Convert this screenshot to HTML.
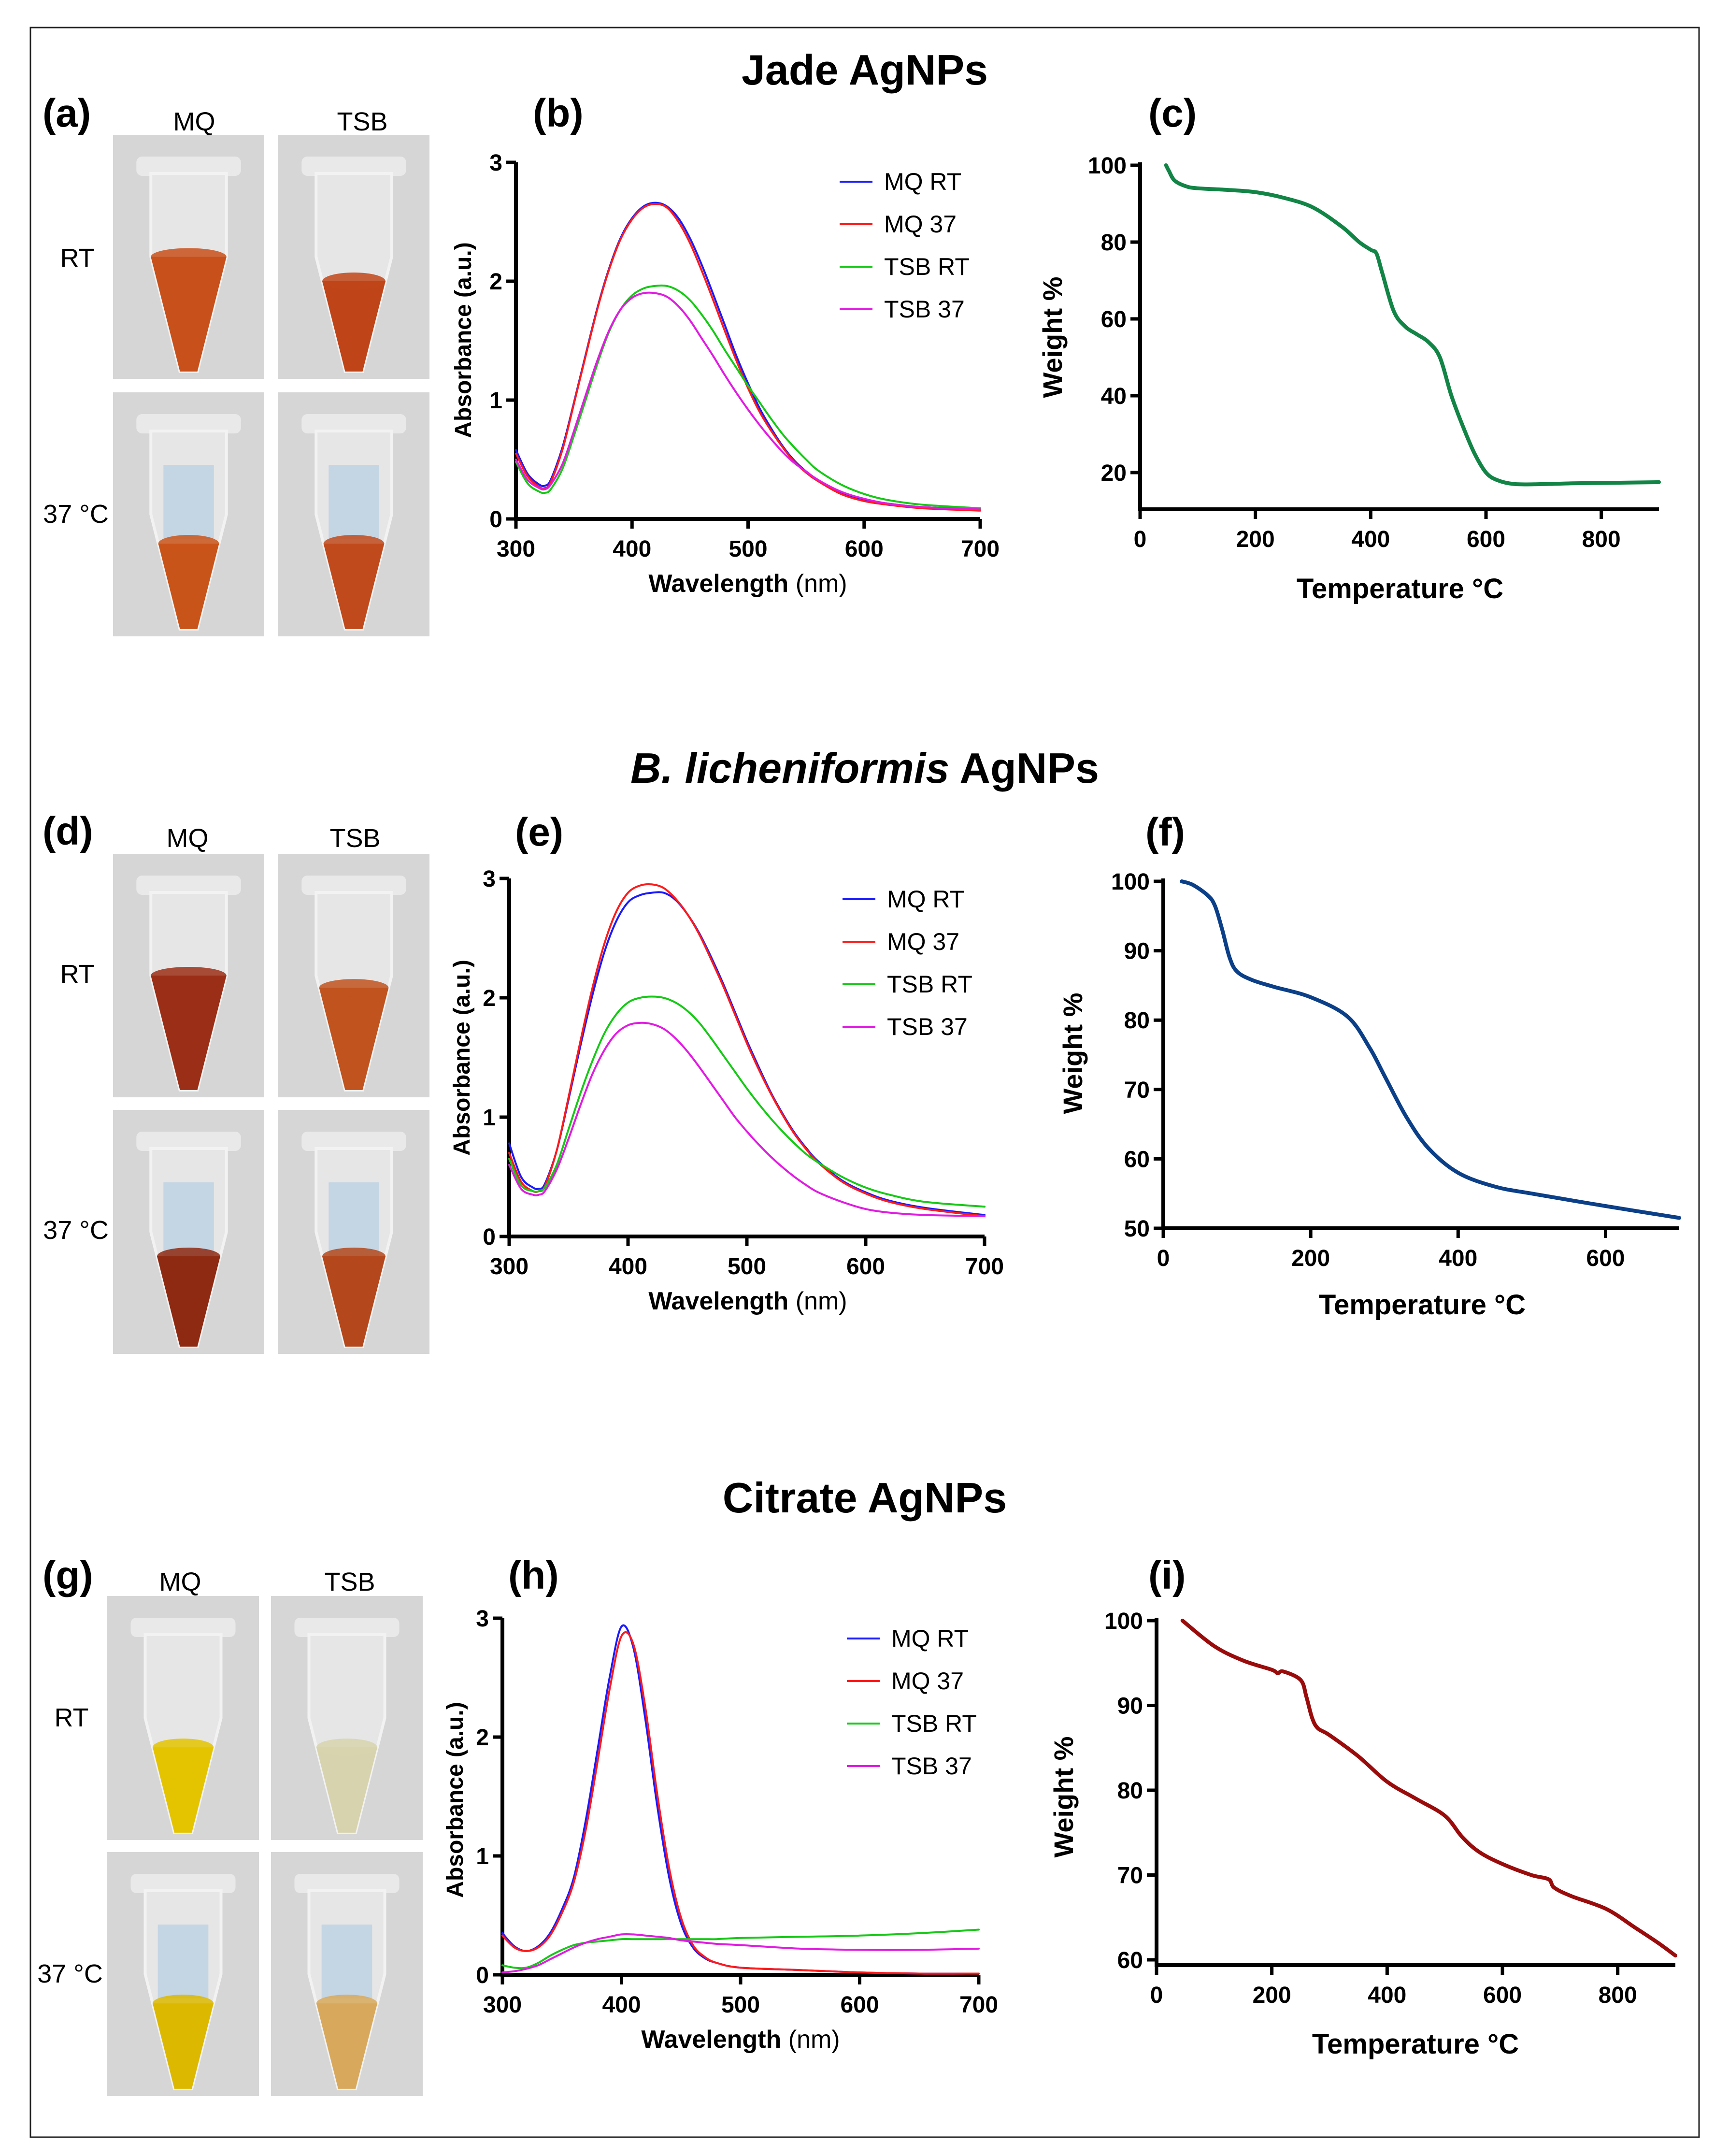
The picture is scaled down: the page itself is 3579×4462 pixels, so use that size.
<!DOCTYPE html>
<html><head><meta charset="utf-8"><style>
html,body{margin:0;padding:0;background:#fff}
svg{display:block}
text{font-family:"Liberation Sans",sans-serif}
.nar{font-family:"Liberation Sans Narrow","Liberation Sans",sans-serif;font-weight:bold}
</style></head><body>
<svg id="fig" width="3579" height="4462" viewBox="0 0 3579 4462" xmlns="http://www.w3.org/2000/svg">
<rect x="63" y="57" width="3454" height="4366" fill="none" stroke="#222" stroke-width="3"/>
<text x="1790" y="175" font-size="88" font-weight="bold" text-anchor="middle">Jade AgNPs</text>
<text x="1790" y="1620" font-size="88" font-weight="bold" text-anchor="middle"><tspan font-style="italic">B. licheniformis</tspan> AgNPs</text>
<text x="1790" y="3130" font-size="88" font-weight="bold" text-anchor="middle">Citrate AgNPs</text>
<g font-size="82" font-weight="bold">
<text x="88" y="262">(a)</text>
<text x="1103" y="262">(b)</text>
<text x="2377" y="262">(c)</text>
<text x="88" y="1748">(d)</text>
<text x="1066" y="1750">(e)</text>
<text x="2371" y="1750">(f)</text>
<text x="88" y="3288">(g)</text>
<text x="1052" y="3288">(h)</text>
<text x="2377" y="3288">(i)</text>
</g>
<g id="photos"></g>
<g id="charts"></g>
</svg>
<script>
// ---------- UV-Vis data ----------
const wlB = [300,310,320,325,330,340,350,360,370,380,390,400,410,420,430,440,450,460,470,480,490,500,510,520,530,540,550,560,580,600,620,650,700];
const bMQRT = [0.58,0.38,0.29,0.28,0.33,0.6,0.98,1.38,1.77,2.1,2.36,2.53,2.63,2.66,2.63,2.53,2.36,2.14,1.89,1.63,1.37,1.14,0.93,0.76,0.61,0.49,0.4,0.33,0.22,0.16,0.13,0.1,0.08];
const bMQ37 = [0.55,0.36,0.27,0.26,0.31,0.58,0.97,1.37,1.76,2.09,2.35,2.52,2.62,2.65,2.62,2.5,2.32,2.09,1.84,1.58,1.33,1.1,0.9,0.74,0.6,0.48,0.39,0.32,0.21,0.15,0.12,0.09,0.07];
const bTSBRT = [0.48,0.3,0.23,0.22,0.25,0.42,0.7,1.0,1.3,1.57,1.76,1.88,1.94,1.96,1.96,1.92,1.84,1.72,1.58,1.42,1.27,1.12,0.98,0.84,0.71,0.6,0.5,0.41,0.29,0.21,0.16,0.12,0.09];
const bTSB37 = [0.5,0.33,0.26,0.25,0.29,0.46,0.74,1.04,1.33,1.58,1.76,1.86,1.9,1.9,1.87,1.79,1.67,1.52,1.37,1.21,1.06,0.92,0.79,0.67,0.56,0.47,0.4,0.33,0.23,0.17,0.13,0.1,0.08];
const eMQRT = [0.78,0.5,0.41,0.4,0.44,0.72,1.15,1.6,2.02,2.38,2.64,2.8,2.86,2.88,2.88,2.82,2.7,2.54,2.34,2.12,1.88,1.64,1.42,1.21,1.03,0.87,0.74,0.63,0.47,0.37,0.3,0.24,0.18];
const eMQ37 = [0.7,0.46,0.38,0.38,0.42,0.72,1.17,1.64,2.08,2.45,2.72,2.88,2.94,2.95,2.92,2.83,2.7,2.53,2.32,2.1,1.86,1.62,1.4,1.2,1.02,0.86,0.73,0.62,0.46,0.36,0.29,0.23,0.17];
const eTSBRT = [0.65,0.43,0.38,0.38,0.41,0.6,0.9,1.2,1.47,1.7,1.86,1.96,2.0,2.01,2.0,1.96,1.89,1.79,1.66,1.52,1.38,1.24,1.11,0.99,0.88,0.78,0.69,0.62,0.5,0.41,0.35,0.29,0.25];
const eTSB37 = [0.6,0.4,0.35,0.35,0.38,0.56,0.82,1.1,1.36,1.56,1.7,1.77,1.79,1.78,1.74,1.66,1.55,1.42,1.28,1.14,1.0,0.88,0.77,0.67,0.58,0.5,0.43,0.37,0.29,0.23,0.2,0.18,0.17];
const wlH = [300,310,320,330,340,350,360,370,380,390,400,410,420,430,440,450,460,470,480,500,550,600,650,700];
const hMQRT = [0.35,0.24,0.2,0.24,0.35,0.55,0.82,1.3,1.9,2.5,2.93,2.75,2.15,1.42,0.82,0.43,0.23,0.14,0.1,0.06,0.04,0.02,0.01,0.01];
const hMQ37 = [0.33,0.23,0.2,0.23,0.33,0.52,0.78,1.22,1.8,2.4,2.85,2.78,2.25,1.52,0.9,0.48,0.25,0.15,0.1,0.06,0.04,0.02,0.01,0.01];
const hTSBRT = [0.08,0.06,0.06,0.1,0.16,0.21,0.25,0.27,0.28,0.29,0.3,0.3,0.3,0.3,0.3,0.3,0.3,0.3,0.3,0.31,0.32,0.33,0.35,0.38];
const hTSB37 = [0.02,0.03,0.05,0.08,0.13,0.18,0.23,0.27,0.3,0.32,0.34,0.34,0.33,0.32,0.31,0.29,0.28,0.27,0.26,0.25,0.22,0.21,0.21,0.22];
const uvXTicks = [300,400,500,600,700];
const uvYTicks = [0,1,2,3];
const legendLabels = ["MQ RT","MQ 37","TSB RT","TSB 37"];
// ---------- TGA data ----------
const cTemp = [45,50,60,80,100,150,200,250,300,350,380,400,410,420,440,460,480,500,520,540,560,580,600,620,650,700,750,800,900];
const cWeight = [100,98.5,96,94.5,94,93.6,93,91.5,89,84,80,78,77,72,62,58,56,54,50,40,32,25,20,18,17,17,17.2,17.3,17.5];
const fTemp = [25,40,60,70,80,90,100,120,150,200,250,280,300,330,360,400,450,500,600,700];
const fWeight = [100,99.5,98,96.5,93,89,87,85.8,84.8,83.3,80.5,76,72,66,61.5,58,56,55,53.2,51.5];
const iTemp = [45,100,150,200,210,220,250,260,270,280,300,350,400,450,500,530,560,600,650,680,690,720,780,830,870,900];
const iWeight = [100,97,95.3,94.2,93.8,94,93,91,88.5,87.3,86.5,84,81,79,77,74.5,72.7,71.3,70,69.5,68.5,67.5,66,63.8,62,60.5];
const cXTicks = [0,200,400,600,800];
const cYTicks = [20,40,60,80,100];
const fXTicks = [0,200,400,600];
const fYTicks = [50,60,70,80,90,100];
const iXTicks = [0,200,400,600,800];
const iYTicks = [60,70,80,90,100];

const NS = "http://www.w3.org/2000/svg";
function mk(tag, attrs, parent){const e=document.createElementNS(NS,tag);for(const k in attrs)e.setAttribute(k,attrs[k]);parent.appendChild(e);return e;}
const charts = document.getElementById('charts');

function smooth(pts){
  let d='M'+pts[0][0].toFixed(1)+','+pts[0][1].toFixed(1);
  for(let i=0;i<pts.length-1;i++){
    const p0=pts[Math.max(0,i-1)],p1=pts[i],p2=pts[i+1],p3=pts[Math.min(pts.length-1,i+2)];
    const c1=[p1[0]+(p2[0]-p0[0])/6,p1[1]+(p2[1]-p0[1])/6];
    const c2=[p2[0]-(p3[0]-p1[0])/6,p2[1]-(p3[1]-p1[1])/6];
    d+=`C${c1[0].toFixed(1)},${c1[1].toFixed(1)} ${c2[0].toFixed(1)},${c2[1].toFixed(1)} ${p2[0].toFixed(1)},${p2[1].toFixed(1)}`;
  }
  return d;
}

function chart(c){
  const g = mk('g',{},charts);
  
  
  const sx = v => c.px0 + (v - c.xmin)/(c.xmax - c.xmin)*(c.px1 - c.px0);
  const sy = v => c.py0 - (v - c.ymin)/(c.ymax - c.ymin)*(c.py0 - c.py1);
  const ax = mk('path',{d:`M${c.px0},${c.yTop}V${c.xAxisY}M${c.px0-4},${c.xAxisY}H${c.px1}`,stroke:'#000','stroke-width':8,fill:'none'},g);
  
  
  c.xticks.forEach(t=>{
    const x=sx(t);
    mk('line',{x1:x,x2:x,y1:c.xAxisY,y2:c.xAxisY+20,stroke:'#000','stroke-width':7},g);
    const tx=mk('text',{x:x,y:c.xAxisY+78,'font-size':48,'text-anchor':'middle',class:'nar'},g);
    tx.textContent=t;
    
    
  });
  c.yticks.forEach(t=>{
    const y=sy(t);
    mk('line',{x1:c.px0-20,x2:c.px0,y1:y,y2:y,stroke:'#000','stroke-width':7},g);
    const tx=mk('text',{x:c.px0-28,y:y+17,'font-size':48,'text-anchor':'end',class:'nar'},g);
    tx.textContent=t;
    
    
  });
  const xt=mk('text',{x:c.xtX,y:c.xtY,'font-size':c.xtSize,'text-anchor':'middle','font-weight':'bold',class:'nar'},g);
  xt.innerHTML=c.xtitle;
  
  
  const yt=mk('text',{x:0,y:0,'font-size':c.ytSize,'text-anchor':'middle','font-weight':'bold',transform:`translate(${c.ytX},${c.ytY}) rotate(-90)`},g);
  yt.textContent=c.ytitle;
  
  
  c.series.forEach((s,i)=>{
    const pts=s.x.map((v,j)=>[sx(v),sy(s.y[j])]);
    const p=mk('path',{d:smooth(pts),stroke:s.color,'stroke-width':s.w,fill:'none','stroke-linejoin':'round','stroke-linecap':'round'},g);
    
    
    if(c.legend){
      const ly=c.legend.y0+i*c.legend.dy;
      const ll=mk('line',{x1:c.legend.x,x2:c.legend.x+68,y1:ly,y2:ly,stroke:s.color,'stroke-width':4},g);
      
      
      const lt=mk('text',{x:c.legend.x+92,y:ly+17,'font-size':50},g);
      lt.textContent=legendLabels[i];
      
      
    }
  });
}
const cols=['#1a1aff','#ff1a1a','#16c916','#e21ae2'];
function uv(name,wl,arrs,px0,px1,py0,py1,leg,xtX,xtY,ytX,ytY){
  chart({name,xmin:300,xmax:700,ymin:0,ymax:3,px0,px1,py0,py1,yTop:py1,xAxisY:py0,xticks:uvXTicks,yticks:uvYTicks,
    xtitle:'Wavelength <tspan font-weight="normal">(nm)</tspan>',xtX,xtY,xtSize:52,ytitle:'Absorbance (a.u.)',ytX,ytY,ytSize:48,
    legend:leg,series:arrs.map((a,i)=>({x:wl,y:a,color:cols[i],w:4}))});
}
uv('chart-b',wlB,[bMQRT,bMQ37,bTSBRT,bTSB37],1068,2029,1074,336,{x:1738,y0:376,dy:88},1548,1225,975,704);
uv('chart-e',wlB,[eMQRT,eMQ37,eTSBRT,eTSB37],1054,2038,2559,1818,{x:1744,y0:1861,dy:88},1548,2710,972,2189);
uv('chart-h',wlH,[hMQRT,hMQ37,hTSBRT,hTSB37],1040,2026,4087,3349,{x:1753,y0:3391,dy:88},1533,4238,958,3725);
chart({name:'chart-c',xmin:0,xmax:900,ymin:20,ymax:100,px0:2360,px1:3434,py0:978,py1:342,yTop:336,xAxisY:1054,xticks:cXTicks,yticks:cYTicks,
  xtitle:'Temperature °C',xtX:2898,xtY:1238,xtSize:58,ytitle:'Weight %',ytX:2198,ytY:698,ytSize:56,
  series:[{x:cTemp,y:cWeight,color:'#128546',w:8}]});
chart({name:'chart-f',xmin:0,xmax:700,ymin:50,ymax:100,px0:2408,px1:3476,py0:2542,py1:1824,yTop:1818,xAxisY:2542,xticks:fXTicks,yticks:fYTicks,
  xtitle:'Temperature °C',xtX:2944,xtY:2720,xtSize:58,ytitle:'Weight %',ytX:2240,ytY:2180,ytSize:56,
  series:[{x:fTemp,y:fWeight,color:'#0b3f88',w:8}]});
chart({name:'chart-i',xmin:0,xmax:900,ymin:60,ymax:100,px0:2394,px1:3468,py0:4056,py1:3354,yTop:3348,xAxisY:4067,xticks:iXTicks,yticks:iYTicks,
  xtitle:'Temperature °C',xtX:2930,xtY:4250,xtSize:58,ytitle:'Weight %',ytX:2221,ytY:3719,ytSize:56,
  series:[{x:iTemp,y:iWeight,color:'#9a0c0c',w:8}]});

// ---------- Photos ----------
const photos=document.getElementById('photos');
function tube(x,y,w,h,liqTop,liqCol,blue,name){
  const g=mk('g',{},photos);
  
  
  mk('rect',{x:x,y:y,width:w,height:h,fill:'#d6d6d6'},g);
  const cx=x+w/2, tw=w*0.5;
  mk('rect',{x:cx-tw/2-30,y:y+45,width:tw+60,height:40,rx:12,fill:'#e9e9e9'},g);
  mk('path',{d:`M${cx-tw/2},${y+80}V${y+h*0.5}L${cx-18},${y+h*0.97}H${cx+18}L${cx+tw/2},${y+h*0.5}V${y+80}Z`,fill:'#e6e6e6',stroke:'#f2f2f2','stroke-width':6},g);
  if(blue) mk('path',{d:`M${cx-tw/3},${y+150}V${y+h*0.6}H${cx+tw/3}V${y+150}Z`,fill:'#b5cde2',opacity:0.7},g);
  const ly=y+h*liqTop; const frac=(ly-(y+h*0.5))/(h*0.47);
  const half=ly<y+h*0.5? tw/2 : tw/2-(tw/2-18)*frac;
  mk('path',{d:`M${cx-half},${ly}L${cx-18},${y+h*0.97}H${cx+18}L${cx+half},${ly}Z`,fill:liqCol},g);
  mk('ellipse',{cx:cx,cy:ly,rx:half,ry:18,fill:liqCol,opacity:0.85},g);
}
tube(234,279,313,505,0.5,'#c8501b',false,'photo-jade-mq-rt');
tube(576,279,313,505,0.6,'#bf4519',false,'photo-jade-tsb-rt');
tube(234,812,313,505,0.62,'#c95419',true,'photo-jade-mq-37');
tube(576,812,313,505,0.62,'#c04a1c',true,'photo-jade-tsb-37');
tube(234,1767,313,504,0.5,'#9b2e16',false,'photo-lich-mq-rt');
tube(576,1767,313,504,0.55,'#c0531e',false,'photo-lich-tsb-rt');
tube(234,2297,313,505,0.6,'#8e2a12',true,'photo-lich-mq-37');
tube(576,2297,313,505,0.6,'#b4481c',true,'photo-lich-tsb-37');
tube(222,3303,314,505,0.62,'#e4c300',false,'photo-cit-mq-rt');
tube(561,3303,314,505,0.62,'#d7d3ae',false,'photo-cit-tsb-rt');
tube(222,3833,314,505,0.62,'#dcb800',true,'photo-cit-mq-37');
tube(561,3833,314,505,0.62,'#d8a95c',true,'photo-cit-tsb-37');
const lbl=[['MQ',402,270],['TSB',750,270],['RT',160,552],['37 °C',157,1082],
 ['MQ',388,1753],['TSB',735,1753],['RT',160,2034],['37 °C',157,2564],
 ['MQ',373,3292],['TSB',724,3292],['RT',148,3573],['37 °C',145,4103]];
lbl.forEach(l=>{
  const t=mk('text',{x:l[1],y:l[2],'font-size':54,'text-anchor':'middle'},photos);
  t.textContent=l[0];
  
  
});
</script>
</body></html>
